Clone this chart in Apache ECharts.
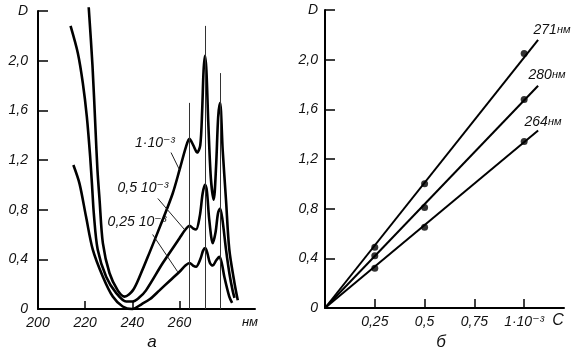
<!DOCTYPE html>
<html><head><meta charset="utf-8">
<script src="https://cdn.jsdelivr.net/npm/echarts@6/dist/echarts.min.js"></script>
<style>html,body{margin:0;padding:0;background:#fff}#c{width:586px;height:358px}</style>
</head><body><div id="c"></div>
<script>
// ---- data (left: absorption spectra, nm vs D) ----
const nmLabels = [200, 220, 240, 260];
const nmTicks = [220, 240, 260];
const spec1 = [[221.5,2.43],[223.1,1.96],[224.4,1.44],[225.2,1.12],[226.1,0.88],[227.5,0.53],[230.3,0.29],[233.8,0.15],[236.7,0.10],[240.2,0.15],[243.5,0.28],[247.2,0.45],[252.9,0.72],[257.1,0.93],[260.0,1.12],[262.8,1.31],[264.2,1.37],[265.8,1.32],[267.5,1.26],[268.8,1.32],[269.6,1.6],[270.2,1.92],[270.8,2.04],[271.4,1.92],[272.2,1.5],[273.3,1.05],[274.5,0.88],[275.5,1.15],[276.4,1.55],[277.2,1.66],[278.3,1.28],[279.7,0.88],[281.1,0.48],[283.3,0.21],[284.7,0.07]];
const spec2 = [[213.8,2.28],[216.9,2.06],[219.0,1.82],[220.7,1.55],[222.1,1.23],[222.9,1.00],[223.7,0.76],[225.3,0.48],[228.9,0.26],[233.1,0.13],[237.4,0.06],[240.0,0.06],[242.8,0.09],[245.8,0.15],[252.9,0.37],[260.0,0.57],[262.5,0.64],[264.3,0.67],[265.7,0.65],[267.0,0.64],[268.6,0.75],[269.8,0.93],[270.8,1.0],[271.6,0.95],[272.6,0.72],[274.1,0.53],[275.3,0.62],[276.3,0.77],[277.2,0.81],[278.2,0.72],[279.7,0.48],[281.2,0.28],[282.5,0.15],[283.3,0.09]];
const spec3 = [[215.0,1.16],[217.6,1.01],[220.4,0.74],[223.2,0.48],[227.5,0.26],[231.7,0.10],[235.9,0.02],[240.0,0.0],[244.0,0.04],[247.5,0.08],[251.5,0.15],[256.0,0.23],[260.0,0.30],[262.5,0.35],[264.3,0.37],[265.7,0.35],[267.0,0.34],[268.8,0.40],[270.0,0.47],[270.9,0.49],[271.8,0.45],[272.9,0.37],[274.1,0.35],[275.5,0.39],[276.9,0.42],[277.9,0.37],[279.0,0.26],[281.1,0.10],[282.3,0.05]];
const peakLines = [[264.2,1.66],[270.8,2.28],[277.2,1.90]];
const pointers = [[[256.4,1.26],[260.0,1.12]],[[250.8,0.89],[262.1,0.64]],[[248.6,0.60],[259.2,0.30]]];

// ---- data (right: D vs concentration) ----
const conc = [0.25, 0.5, 1.0];
const d271 = [0.49, 1.00, 2.05];
const d280 = [0.42, 0.81, 1.68];
const d264 = [0.32, 0.65, 1.34];
const fitEndC = 1.07;
const fit271 = 2.16, fit280 = 1.79, fit264 = 1.43;
const cLabels = [0.25, 0.5, 0.75, 1];

const FONT = "'Liberation Sans', 'DejaVu Sans', sans-serif";
const lblStyle = {fontFamily: FONT, fontStyle: 'italic', fontSize: 14, color: '#111'};
const dFmt = v => v > 2.3 ? 'D' : (v === 0 ? '0' : v.toFixed(1).replace('.', ','));
const cFmt = v => v === 1 ? '1·10⁻³' : String(v).replace('.', ',');

const axisLine = {show: true, lineStyle: {color: '#000', width: 2}};
const chart = echarts.init(document.getElementById('c'), null, {renderer: 'canvas'});
const curveStyle = {color: '#000', width: 2.6};
const spline = (data) => ({type: 'line', xAxisIndex: 0, yAxisIndex: 0, data, showSymbol: false, smooth: 0.3, clip: false, lineStyle: curveStyle, silent: true});
const pairs = (ys) => conc.map((c, i) => [c, ys[i]]);
const fitLine = (end) => ({type: 'line', xAxisIndex: 1, yAxisIndex: 1, data: [[0, 0], [fitEndC, end]], showSymbol: false, clip: false, lineStyle: {color: '#000', width: 2}, silent: true});
const dots = (ys) => ({type: 'scatter', xAxisIndex: 1, yAxisIndex: 1, data: pairs(ys), symbolSize: 7, itemStyle: {color: '#000'}, silent: true});

const s1 = spline(spec1);
s1.markLine = {
  silent: true, symbol: 'none', label: {show: false},
  data: peakLines.map(p => [{coord: [p[0], 0], lineStyle: {color: '#333', width: 1, type: 'solid'}}, {coord: [p[0], p[1]]}])
    .concat(pointers.map(p => [{coord: p[0], lineStyle: {color: '#222', width: 1, type: 'solid'}}, {coord: p[1]}]))
};

const rich = (a, b) => ({a: {fontFamily: FONT, fontStyle: 'italic', fontSize: 14, fill: '#111'}, b: {fontFamily: FONT, fontStyle: 'italic', fontSize: 11, fill: '#111'}});
const txt = (x, y, text, size) => ({type: 'text', x, y, style: {text, fontFamily: FONT, fontStyle: 'italic', fontSize: size || 14, fill: '#111', textAlign: 'center', textVerticalAlign: 'middle'}});
const rtxt = (x, y, a, b) => ({type: 'text', x, y, style: {text: '{a|' + a + '}{b|' + b + '}', rich: rich(), textAlign: 'center', textVerticalAlign: 'middle'}});

chart.setOption({
  animation: false,
  backgroundColor: '#fff',
  grid: [
    {left: 38, top: 11, width: 217, height: 298},
    {left: 325, top: 10, width: 239, height: 298}
  ],
  xAxis: [
    {gridIndex: 0, type: 'value', min: 200, max: 292, interval: 20,
      axisLine, splitLine: {show: false},
      axisTick: {show: true, inside: true, length: 8, customValues: nmTicks, lineStyle: {color: '#000', width: 1.5}},
      axisLabel: Object.assign({customValues: nmLabels, margin: 7}, lblStyle)},
    {gridIndex: 1, type: 'value', min: 0, max: 1.2, interval: 0.25,
      axisLine, splitLine: {show: false},
      axisTick: {show: true, inside: true, length: 9, customValues: cLabels, lineStyle: {color: '#000', width: 1.5}},
      axisLabel: Object.assign({customValues: cLabels, margin: 7, formatter: cFmt}, lblStyle)}
  ],
  yAxis: [
    {gridIndex: 0, type: 'value', min: 0, max: 2.4, interval: 0.4,
      axisLine, splitLine: {show: false},
      axisTick: {show: true, inside: true, length: 10, lineStyle: {color: '#000', width: 1.5}},
      axisLabel: Object.assign({margin: 10, formatter: dFmt}, lblStyle)},
    {gridIndex: 1, type: 'value', min: 0, max: 2.4, interval: 0.4,
      axisLine, splitLine: {show: false},
      axisTick: {show: true, inside: true, length: 10, lineStyle: {color: '#000', width: 1.5}},
      axisLabel: Object.assign({margin: 7, formatter: dFmt}, lblStyle)}
  ],
  series: [
    s1, spline(spec2), spline(spec3),
    fitLine(fit271), fitLine(fit280), fitLine(fit264),
    dots(d271), dots(d280), dots(d264)
  ],
  graphic: [
    txt(155, 143, '1·10⁻³'),
    txt(143, 188, '0,5 10⁻³'),
    txt(137, 222, '0,25 10⁻³'),
    txt(250, 322, 'нм', 13),
    txt(152, 342, 'а', 17),
    txt(441, 342, 'б', 17),
    txt(558, 321, 'C', 16),
    rtxt(552, 30, '271', 'нм'),
    rtxt(547, 75, '280', 'нм'),
    rtxt(543, 122, '264', 'нм')
  ]
});
</script></body></html>
